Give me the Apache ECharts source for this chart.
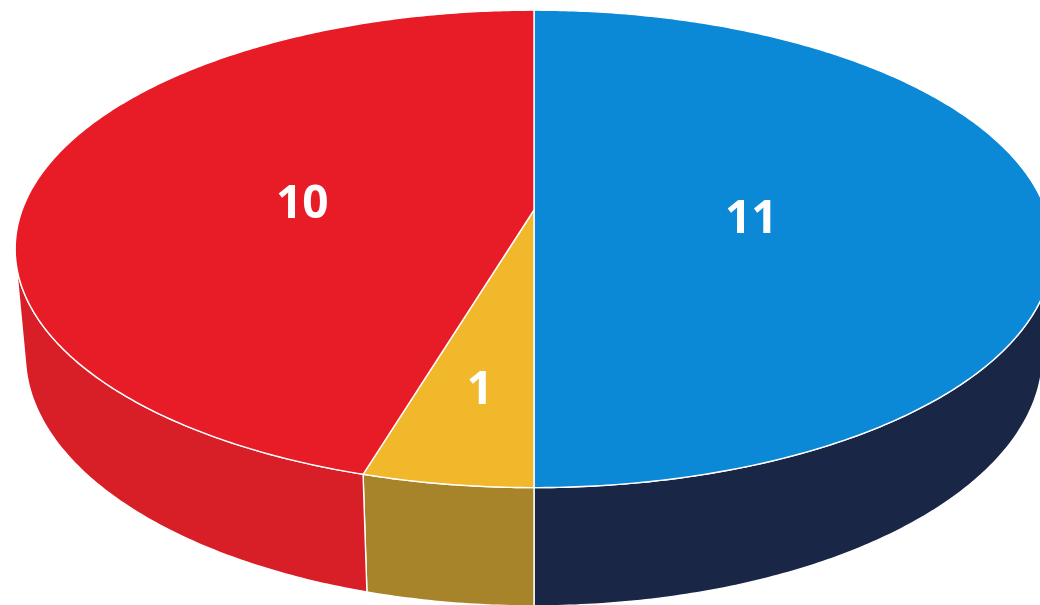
<!DOCTYPE html>
<html>
<head>
<meta charset="utf-8">
<title>3D Pie</title>
<script src="https://cdn.jsdelivr.net/npm/echarts@6/dist/echarts.min.js"></script>
<style>
  html, body { margin: 0; padding: 0; background: #ffffff; }
  #chart { width: 1040px; height: 605px; }
</style>
</head>
<body>
<div id="chart"></div>
<script>
// Slice data, drawn clockwise from 12 o'clock
const sliceNames = ['Segment A', 'Segment B', 'Segment C'];
const sliceValues = [11, 1, 10];

// Face colours per slice
const topColors = ['#0b89d6', '#f1b82c', '#e81c27'];
const sideColors = ['#1a2646', '#a7832a', '#d81e27'];

// Perspective camera for the tilted disc (unit radius, disc top at Y = 0)
const view = {
  ox: 534, oy: 210,         // screen position of the disc centre
  focal: 2800,              // focal length in pixels
  dist: 5.47,               // camera distance in radii
  sinT: 0.454, cosT: 0.891, // camera elevation
  thick: 0.234              // disc thickness in radii
};

// label text style and nudge below its anchor point
const labelStyle = { size: 46, dy: 10 };

function project(X, Y, Z) {
  const depth = view.dist - Y * view.sinT + Z * view.cosT;
  const sx = X / depth;
  const sy = (Y * view.cosT + Z * view.sinT) / depth;
  return [view.ox + view.focal * sx, view.oy - view.focal * sy];
}

// angle measured clockwise from the far side of the disc
function rimPoint(theta, Y, r) {
  const rr = r === undefined ? 1 : r;
  return project(rr * Math.sin(theta), Y, rr * Math.cos(theta));
}

function arc(a0, a1, Y) {
  const pts = [];
  const n = Math.max(2, Math.ceil(Math.abs(a1 - a0) / 0.01));
  for (let i = 0; i <= n; i++) {
    pts.push(rimPoint(a0 + (a1 - a0) * i / n, Y));
  }
  return pts;
}

const total = sliceValues.reduce((s, v) => s + v, 0);
const starts = [];
sliceValues.reduce((acc, v) => { starts.push(acc); return acc + v; }, 0);

// range of the rim that faces the camera
const limit = Math.acos(-1 / (view.dist * view.cosT));
const sideFrom = limit;
const sideTo = 2 * Math.PI - limit;

function renderSlice(params, api) {
  const i = params.dataIndex;
  const value = api.value(0);
  const a0 = starts[i] / total * 2 * Math.PI;
  const a1 = a0 + value / total * 2 * Math.PI;
  const children = [];

  // outer wall of the slice
  const s0 = Math.max(a0, sideFrom);
  const s1 = Math.min(a1, sideTo);
  if (s1 > s0) {
    const upper = arc(s0, s1, 0);
    const lower = arc(s1, s0, -view.thick);
    children.push({
      type: 'polygon',
      z2: 1,
      shape: { points: upper.concat(lower) },
      style: { fill: sideColors[i], stroke: '#ffffff', lineWidth: 1.4, lineJoin: 'round' }
    });
  }

  // top face
  const topPts = [project(0, 0, 0)].concat(arc(a0, a1, 0));
  children.push({
    type: 'polygon',
    z2: 5,
    shape: { points: topPts },
    style: { fill: topColors[i], stroke: '#ffffff', lineWidth: 1.4, lineJoin: 'round' }
  });

  // value label at the centroid of the slice's top face
  const alpha = a1 - a0;
  const d = 4 * Math.sin(alpha / 2) / (3 * alpha);
  const mid = (a0 + a1) / 2;
  const lp = rimPoint(mid, 0, d);
  children.push({
    type: 'text',
    z2: 10,
    x: lp[0],
    y: lp[1] + labelStyle.dy,
    style: {
      text: String(value),
      fill: '#ffffff',
      fontFamily: '"Open Sans", sans-serif',
      fontWeight: 'bold',
      fontSize: labelStyle.size,
      align: 'center',
      verticalAlign: 'middle'
    }
  });

  return { type: 'group', children: children };
}

const chart = echarts.init(document.getElementById('chart'), null, { renderer: 'canvas' });
chart.setOption({
  animation: false,
  backgroundColor: '#ffffff',
  series: [{
    type: 'custom',
    coordinateSystem: 'none',
    silent: true,
    renderItem: renderSlice,
    data: sliceValues.map((v, i) => ({ name: sliceNames[i], value: [v] }))
  }]
});
</script>
</body>
</html>
